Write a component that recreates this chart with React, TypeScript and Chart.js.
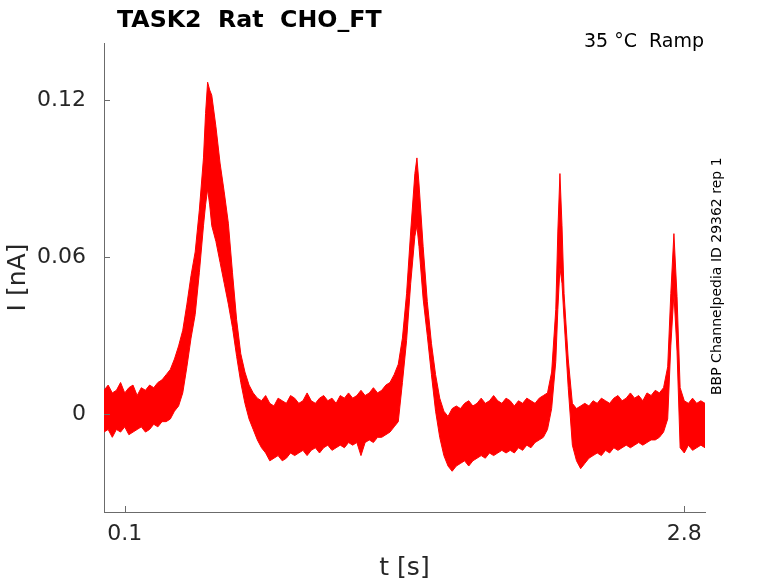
import React, { useEffect, useRef } from 'react';
import { Chart, registerables } from 'chart.js';

Chart.register(...registerables);

// time points [s] and the envelope of the overlaid current traces [nA]
const times = [
  0.0, 0.02, 0.04, 0.06, 0.08, 0.1, 0.12, 0.14, 0.16, 0.18, 0.2, 0.22, 0.24, 0.26, 0.28, 0.3,
  0.32, 0.34, 0.36, 0.38, 0.4, 0.42, 0.44, 0.46, 0.48, 0.49, 0.5, 0.51, 0.52, 0.54, 0.56, 0.58,
  0.6, 0.62, 0.64, 0.66, 0.68, 0.7, 0.72, 0.74, 0.76, 0.78, 0.8, 0.82, 0.84, 0.86, 0.88, 0.9,
  0.92, 0.94, 0.96, 0.98, 1.0, 1.02, 1.04, 1.06, 1.08, 1.1, 1.12, 1.14, 1.16, 1.18, 1.2, 1.22,
  1.24, 1.26, 1.28, 1.3, 1.32, 1.34, 1.36, 1.38, 1.4, 1.42, 1.44, 1.46, 1.48, 1.5, 1.51, 1.52,
  1.54, 1.56, 1.58, 1.6, 1.62, 1.64, 1.66, 1.68, 1.7, 1.72, 1.74, 1.76, 1.78, 1.8, 1.82, 1.84,
  1.86, 1.88, 1.9, 1.92, 1.94, 1.96, 1.98, 2.0, 2.02, 2.04, 2.06, 2.08, 2.1, 2.12, 2.14, 2.16,
  2.18, 2.19, 2.2, 2.21, 2.22, 2.24, 2.26, 2.28, 2.3, 2.32, 2.34, 2.36, 2.38, 2.4, 2.42, 2.44,
  2.46, 2.48, 2.5, 2.52, 2.54, 2.56, 2.58, 2.6, 2.62, 2.64, 2.66, 2.68, 2.7, 2.72, 2.735, 2.75,
  2.765, 2.78, 2.8, 2.82, 2.84, 2.86, 2.88, 2.9,
];

const upperNA = [
  0.009, 0.011, 0.008, 0.009, 0.012, 0.008, 0.01, 0.011, 0.007, 0.01, 0.009, 0.011, 0.01, 0.012, 0.013, 0.015,
  0.017, 0.021, 0.026, 0.032, 0.042, 0.053, 0.062, 0.078, 0.098, 0.115, 0.127, 0.124, 0.122, 0.11, 0.096, 0.085,
  0.073, 0.054, 0.036, 0.023, 0.016, 0.011, 0.008, 0.006, 0.005, 0.007, 0.004, 0.003, 0.006, 0.005, 0.004, 0.007,
  0.006, 0.004, 0.005, 0.008, 0.005, 0.004, 0.006, 0.007, 0.005, 0.006, 0.004, 0.007, 0.006, 0.008, 0.006, 0.007,
  0.009, 0.007, 0.008, 0.01, 0.008, 0.009, 0.011, 0.012, 0.015, 0.019, 0.029, 0.046, 0.07, 0.092, 0.098, 0.088,
  0.064, 0.043, 0.027, 0.015, 0.006, 0.001, -0.001, 0.002, 0.003, 0.002, 0.004, 0.005, 0.003, 0.004, 0.006, 0.004,
  0.005, 0.007, 0.005, 0.004, 0.006, 0.005, 0.003, 0.005, 0.004, 0.006, 0.005, 0.004, 0.006, 0.007, 0.008, 0.016,
  0.04, 0.07, 0.092, 0.072, 0.046, 0.021, 0.004, 0.002, 0.003, 0.004, 0.003, 0.005, 0.004, 0.006, 0.005, 0.004,
  0.006, 0.007, 0.005, 0.006, 0.008, 0.006, 0.007, 0.005, 0.008, 0.007, 0.009, 0.008, 0.01, 0.018, 0.046, 0.069,
  0.045, 0.01, 0.005, 0.004, 0.006, 0.004, 0.005, 0.004,
];

const lowerNA = [
  -0.007, -0.006, -0.009, -0.006, -0.007, -0.005, -0.008, -0.007, -0.006, -0.005, -0.007, -0.006, -0.004, -0.005, -0.003, -0.003,
  -0.002, 0.001, 0.003, 0.008, 0.018, 0.029, 0.038, 0.054, 0.072, 0.08, 0.086, 0.08, 0.072, 0.066, 0.058, 0.05,
  0.042, 0.033, 0.022, 0.012, 0.004, -0.002, -0.006, -0.01, -0.013, -0.015, -0.018, -0.017, -0.016, -0.018, -0.017, -0.015,
  -0.016, -0.015, -0.014, -0.016, -0.014, -0.013, -0.015, -0.013, -0.012, -0.014, -0.013, -0.012, -0.013, -0.011, -0.012, -0.011,
  -0.016, -0.011, -0.01, -0.011, -0.009, -0.009, -0.008, -0.007, -0.005, -0.003, 0.012, 0.028, 0.05, 0.068, 0.072, 0.064,
  0.044, 0.03, 0.015, 0.001, -0.009, -0.016, -0.02, -0.022, -0.02, -0.019, -0.018, -0.02, -0.018, -0.017, -0.016, -0.017,
  -0.015, -0.016, -0.015, -0.014, -0.015, -0.014, -0.015, -0.013, -0.014, -0.012, -0.013, -0.011, -0.01, -0.009, -0.006, 0.002,
  0.02, 0.04, 0.056, 0.05, 0.036, 0.01, -0.012, -0.018, -0.021, -0.019, -0.017, -0.016, -0.015, -0.016, -0.014, -0.015,
  -0.013, -0.014, -0.013, -0.012, -0.013, -0.012, -0.011, -0.012, -0.011, -0.01, -0.01, -0.009, -0.007, -0.002, 0.026, 0.046,
  0.024, -0.013, -0.015, -0.012, -0.014, -0.013, -0.012, -0.013,
];

const xTickValues = [0.1, 2.8];
const xTickLabels = ['0.1', '2.8'];
const yTickValues = [0, 0.06, 0.12];
const yTickLabels = ['0', '0.06', '0.12'];

const titleText = 'TASK2  Rat  CHO_FT';
const conditionText = '35 °C  Ramp';
const sideText = 'BBP Channelpedia ID 29362 rep 1';

const FONT = '"DejaVu Sans", "Liberation Sans", sans-serif';
const AXIS_COLOR = '#6b6b6b';
const TEXT_COLOR = '#262626';

const annotate = {
  id: 'annotate',
  afterDraw(chart: any) {
    const { ctx, chartArea, scales } = chart;
    ctx.save();

    // inward tick marks
    ctx.strokeStyle = AXIS_COLOR;
    ctx.lineWidth = 1;
    ctx.beginPath();
    xTickValues.forEach((v) => {
      const px = Math.round(scales.x.getPixelForValue(v)) + 0.5;
      ctx.moveTo(px, chartArea.bottom);
      ctx.lineTo(px, chartArea.bottom - 6);
    });
    yTickValues.forEach((v) => {
      const py = Math.round(scales.y.getPixelForValue(v)) + 0.5;
      ctx.moveTo(chartArea.left, py);
      ctx.lineTo(chartArea.left + 6, py);
    });
    ctx.stroke();

    // title
    ctx.fillStyle = '#000';
    ctx.font = `bold 23.7px ${FONT}`;
    ctx.textAlign = 'left';
    ctx.textBaseline = 'alphabetic';
    ctx.fillText(titleText, 117, 27);

    // condition, top right
    ctx.font = `19px ${FONT}`;
    ctx.textAlign = 'right';
    ctx.fillText(conditionText, chartArea.right - 1, 47);

    // axis titles
    ctx.fillStyle = TEXT_COLOR;
    ctx.font = `25px ${FONT}`;
    ctx.textAlign = 'center';
    ctx.fillText('t [s]', (chartArea.left + chartArea.right) / 2, 575);

    ctx.save();
    ctx.translate(24.5, (chartArea.top + chartArea.bottom) / 2);
    ctx.rotate(-Math.PI / 2);
    ctx.fillText('I [nA]', 0, 0);
    ctx.restore();

    // vertical source note
    ctx.save();
    ctx.fillStyle = '#000';
    ctx.font = `14px ${FONT}`;
    ctx.textAlign = 'left';
    ctx.translate(720.5, 395);
    ctx.rotate(-Math.PI / 2);
    ctx.fillText(sideText, 0, 0);
    ctx.restore();

    ctx.restore();
  },
};

const App: React.FC = () => {
  const chartRef = useRef<HTMLCanvasElement | null>(null);

  useEffect(() => {
    if (!chartRef.current) return;

    const chart = new Chart(chartRef.current, {
      type: 'line',
      data: {
        datasets: [
          {
            label: 'upper',
            data: times.map((t, i) => ({ x: t, y: upperNA[i] })),
            borderColor: '#ff0000',
            backgroundColor: '#ff0000',
            borderWidth: 1,
            pointRadius: 0,
            fill: '+1',
          },
          {
            label: 'lower',
            data: times.map((t, i) => ({ x: t, y: lowerNA[i] })),
            borderColor: '#ff0000',
            backgroundColor: '#ff0000',
            borderWidth: 1,
            pointRadius: 0,
            fill: false,
          },
        ],
      },
      options: {
        responsive: false,
        animation: false,
        layout: { padding: { top: 43, right: 73, left: 0, bottom: 0 } },
        plugins: {
          legend: { display: false },
          tooltip: { enabled: false },
        },
        scales: {
          x: {
            type: 'linear',
            min: 0,
            max: 2.9,
            grid: { display: false, drawTicks: false },
            border: { display: true, color: AXIS_COLOR, width: 1 },
            afterBuildTicks: (scale: any) => {
              scale.ticks = xTickValues.map((v) => ({ value: v }));
            },
            afterFit: (scale: any) => {
              scale.height = 71;
            },
            ticks: {
              padding: 9,
              color: TEXT_COLOR,
              font: { family: FONT, size: 22 },
              maxRotation: 0,
              callback: (v: any) => xTickLabels[xTickValues.indexOf(Number(v))] ?? '',
            },
          },
          y: {
            type: 'linear',
            min: -0.0376,
            max: 0.142,
            grid: { display: false, drawTicks: false },
            border: { display: true, color: AXIS_COLOR, width: 1 },
            afterBuildTicks: (scale: any) => {
              scale.ticks = yTickValues.map((v) => ({ value: v }));
            },
            afterFit: (scale: any) => {
              scale.width = 104;
            },
            ticks: {
              padding: 18,
              color: TEXT_COLOR,
              font: { family: FONT, size: 22 },
              callback: (v: any) => yTickLabels[yTickValues.indexOf(Number(v))] ?? '',
            },
          },
        },
      },
      plugins: [annotate],
    });

    return () => chart.destroy();
  }, []);

  return (
    <div style={{ position: 'absolute', left: 0, top: 0, width: '778px', height: '583px', background: '#fff' }}>
      <canvas ref={chartRef} width={778} height={583} />
    </div>
  );
};

export default App;
